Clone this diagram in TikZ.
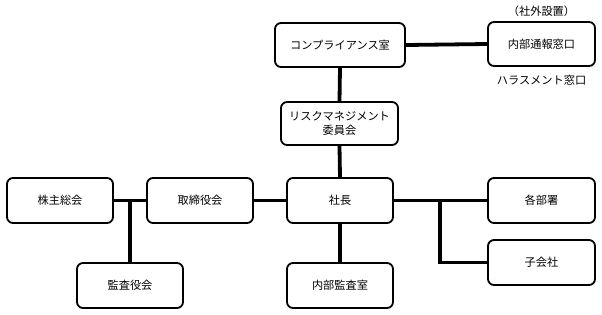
\documentclass[tikz,border=0pt]{standalone}
\usepackage{fontspec}
\newfontfamily\jp{Noto Sans CJK JP}
\begin{document}
\begin{tikzpicture}[x=1pt,y=-1pt,
  box/.style={draw, line width=1.8pt, rounded corners=6pt, fill=white, font=\jp\fontsize{11.2}{14}\selectfont, align=center, inner sep=0pt},
  conn/.style={line width=3.8pt},
  lbl/.style={font=\jp\fontsize{11.2}{14}\selectfont, inner sep=0pt}]
\useasboundingbox (0,0) rectangle (602,314);
% boxes
\node[box, minimum width=130pt, minimum height=44pt] (comp) at (340,45) {コンプライアンス室};
\node[box, minimum width=107pt, minimum height=44pt] (naibu) at (541.5,44) {内部通報窓口};
\node[box, minimum width=117pt, minimum height=43pt] (risk) at (339.5,123.5) {リスクマネジメント\\委員会};
\node[box, minimum width=106pt, minimum height=45pt] (kabu) at (60,200.5) {株主総会};
\node[box, minimum width=106pt, minimum height=45pt] (tori) at (200,200.5) {取締役会};
\node[box, minimum width=106pt, minimum height=45pt] (sha) at (340,200.5) {社長};
\node[box, minimum width=107pt, minimum height=45pt] (kaku) at (541.5,200.5) {各部署};
\node[box, minimum width=106pt, minimum height=45pt] (kansa) at (130,285.5) {監査役会};
\node[box, minimum width=106pt, minimum height=45pt] (naikan) at (340,285.5) {内部監査室};
\node[box, minimum width=107pt, minimum height=45pt] (ko) at (541.5,262.5) {子会社};
% labels
\node[lbl] (shagai) at (541.5,11) {（社外設置）};
\node[lbl] (hara) at (541.5,80) {ハラスメント窓口};
% junctions
\coordinate (j1) at (130,200.5);
\coordinate (j2) at (440,200.5);
% connectors
\begin{scope}[on background layer/.try]
\draw[conn] (comp.east) -- (naibu.west);
\draw[conn] (comp.south) -- (risk.north);
\draw[conn] (risk.south) -- (sha.north);
\draw[conn] (kabu.east) -- (tori.west);
\draw[conn] (j1) -- (kansa.north);
\draw[conn] (tori.east) -- (sha.west);
\draw[conn] (sha.south) -- (naikan.north);
\draw[conn] (sha.east) -- (kaku.west);
\draw[conn] (j2) |- (ko.west);
\end{scope}
\end{tikzpicture}
\end{document}
